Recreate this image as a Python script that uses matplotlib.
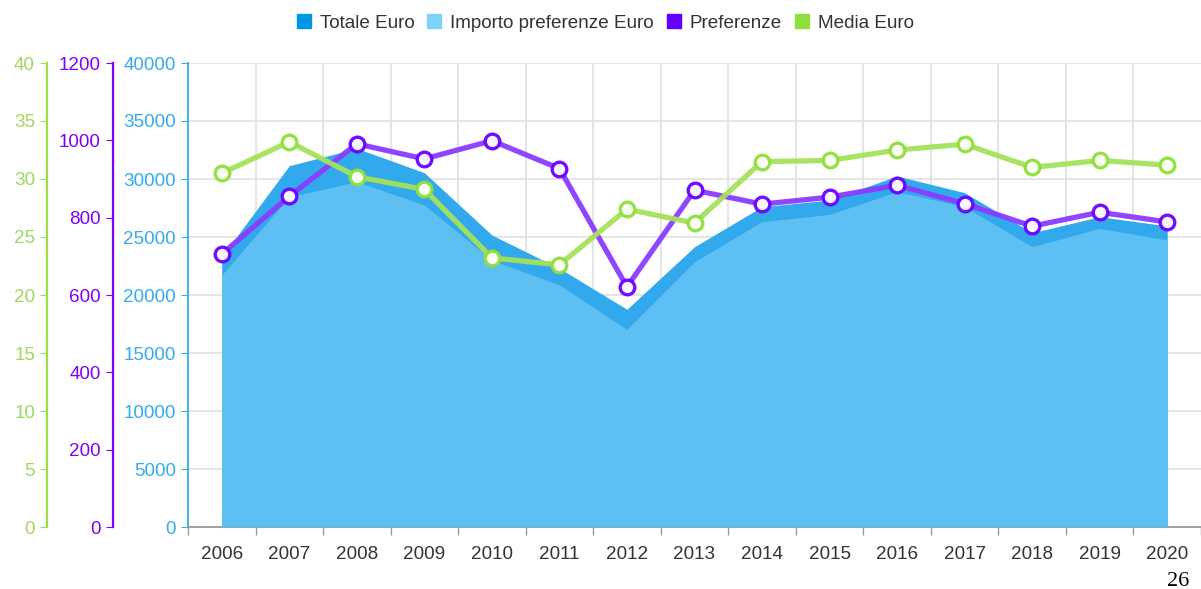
import matplotlib
matplotlib.use("Agg")
import matplotlib.pyplot as plt
from matplotlib.lines import Line2D
import numpy as np

years = ["2006", "2007", "2008", "2009", "2010", "2011", "2012", "2013",
         "2014", "2015", "2016", "2017", "2018", "2019", "2020"]
totale_euro = [23300, 31150, 32640, 30540, 25170, 22300, 18770, 24160,
               27610, 28190, 30260, 28820, 25370, 26750, 25950]
importo_pref = [21720, 28470, 29770, 27760, 23000, 20860, 17040, 22870,
                26320, 26950, 28910, 27610, 24160, 25750, 24740]
preferenze = [706, 855, 991, 952, 999, 927, 621, 871,
              835, 853, 884, 836, 778, 814, 789]
media_euro = [30.5, 33.2, 30.2, 29.1, 23.2, 22.6, 27.4, 26.2,
              31.5, 31.6, 32.5, 33.0, 31.0, 31.6, 31.2]

plt.rcParams['font.family'] = ['Liberation Sans', 'DejaVu Sans']
FS = 13.6
PX = 72 / 100  # points per pixel at dpi 100

C_TOT = '#31a9ec'
C_IMP = '#5ec0f2'
C_PREF_LINE = '#8a3cff'
C_PREF_MK = '#6a00ff'
C_MED_LINE = '#a4e25c'
C_MED_MK = '#8fe03a'
C_BLUE_AX = '#35aaf0'
C_PURP_AX = '#7f00ff'
C_GREEN_AX = '#9ee04a'
GRID = '#e3e3e3'

fig = plt.figure(figsize=(12.01, 5.89), dpi=100)
L, R = 188 / 1201, 1201 / 1201
B, T = 1 - 527 / 589, 1 - 63 / 589
ax = fig.add_axes([L, B, R - L, T - B])

x = np.arange(len(years))
ax.fill_between(x, 0, totale_euro, color=C_TOT, lw=0, zorder=2)
ax.fill_between(x, 0, importo_pref, color=C_IMP, lw=0, zorder=3)
ax.set_xlim(-0.5, len(years) - 0.5)
ax.set_ylim(0, 40000)
ax.set_yticks(np.arange(0, 40001, 5000))
ax.set_xticks(x)
ax.set_xticklabels(years)
ax.set_xticks(np.arange(-0.5, len(years), 1), minor=True)
ax.tick_params(axis='x', which='major', length=0, pad=14, labelsize=FS, labelcolor='#333333')
ax.tick_params(axis='x', which='minor', length=8 * PX, color='#999999', width=1)
ax.tick_params(axis='y', length=7 * PX, color=C_BLUE_AX, labelcolor=C_BLUE_AX,
               labelsize=FS, pad=5 * PX)
ax.grid(False)
for v in np.arange(5000, 40001, 5000):
    ax.axhline(v, color=GRID, lw=1.3, zorder=1)
for v in np.arange(0.5, len(years) - 0.5, 1):
    ax.axvline(v, color=GRID, lw=1.3, zorder=1)
for s in ['top', 'right']:
    ax.spines[s].set_visible(False)
ax.spines['left'].set_color(C_BLUE_AX)
ax.spines['left'].set_linewidth(1.3)
ax.spines['bottom'].set_color('#999999')
ax.spines['bottom'].set_linewidth(1.3)

# Purple axis
ax2 = ax.twinx()
ax2.set_ylim(0, 1200)
ax2.set_yticks(np.arange(0, 1201, 200))
ax2.yaxis.set_ticks_position('left')
ax2.yaxis.set_label_position('left')
ax2.spines['left'].set_position(('outward', 75 * PX))
ax2.spines['left'].set_color(C_PURP_AX)
ax2.spines['left'].set_linewidth(1.6)
for s in ['top', 'right', 'bottom']:
    ax2.spines[s].set_visible(False)
ax2.tick_params(axis='y', length=7 * PX, color=C_PURP_AX, labelcolor=C_PURP_AX,
                labelsize=FS, pad=5 * PX)

# Green axis
ax3 = ax.twinx()
ax3.set_ylim(0, 40)
ax3.set_yticks(np.arange(0, 41, 5))
ax3.yaxis.set_ticks_position('left')
ax3.yaxis.set_label_position('left')
ax3.spines['left'].set_position(('outward', 141 * PX))
ax3.spines['left'].set_color(C_GREEN_AX)
ax3.spines['left'].set_linewidth(1.6)
for s in ['top', 'right', 'bottom']:
    ax3.spines[s].set_visible(False)
ax3.tick_params(axis='y', length=7 * PX, color=C_GREEN_AX, labelcolor='#9fd85f',
                labelsize=FS, pad=5 * PX)

ax2.plot(x, preferenze, color=C_PREF_LINE, lw=3.8, alpha=0.95, zorder=4,
         marker='o', markersize=10.5, markerfacecolor='white',
         markeredgecolor=C_PREF_MK, markeredgewidth=2.4)
ax3.plot(x, media_euro, color=C_MED_LINE, lw=3.8, alpha=0.95, zorder=4,
         marker='o', markersize=10.5, markerfacecolor='white',
         markeredgecolor=C_MED_MK, markeredgewidth=2.4)

handles = [Line2D([], [], marker='s', ls='none', markersize=9.5, color=c)
           for c in ['#0096e6', '#7dd3f7', '#6200ff', '#8fe03a']]
labels = ['Totale Euro', 'Importo preferenze Euro', 'Preferenze', 'Media Euro']
fig.legend(handles, labels, loc='center', bbox_to_anchor=(604 / 1201, 1 - 23 / 589),
           ncol=4, frameon=False, fontsize=FS, handletextpad=0.35,
           columnspacing=0.55, handlelength=1.0, labelcolor='#333333')

fig.text(1178 / 1201, 1 - 581 / 589, '26', family=['Liberation Serif', 'DejaVu Serif'],
         fontsize=16, ha='center', va='center', color='black')

fig.savefig('out.png', dpi=100)
